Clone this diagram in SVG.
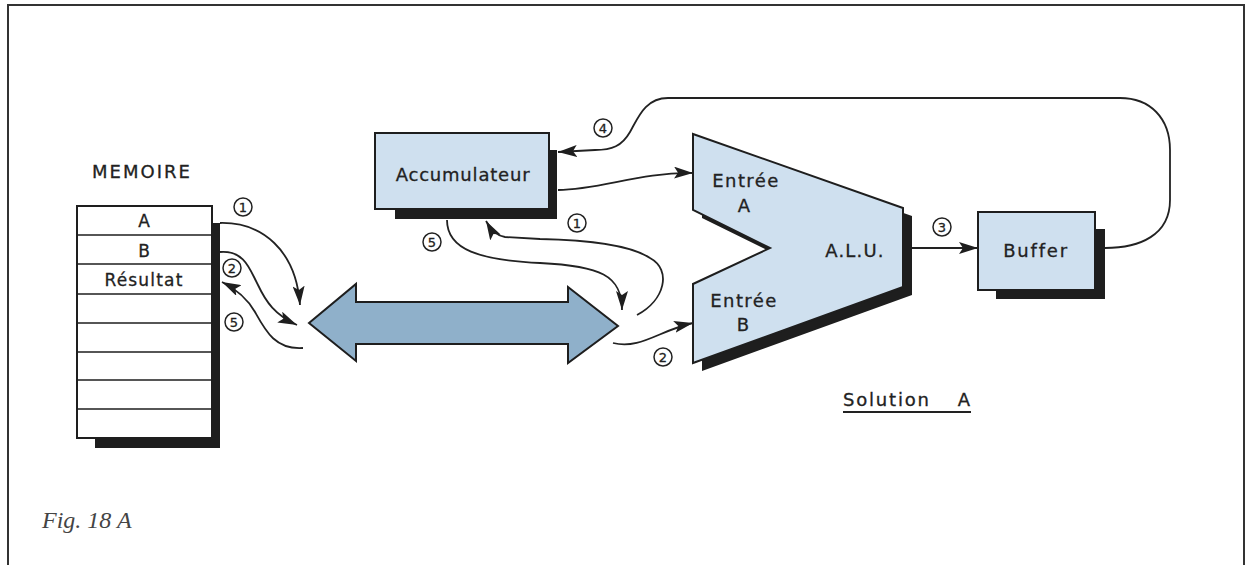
<svg xmlns="http://www.w3.org/2000/svg" width="1249" height="565" viewBox="0 0 1249 565">
<style>
.box{fill:#cfe0ef;stroke:#1e1e1e;stroke-width:2}
.shd{fill:#1e1e1e}
.lbl{font-family:"DejaVu Sans",sans-serif;font-size:18px;fill:#222;stroke:#222;stroke-width:0.3;text-anchor:middle}
.num{font-family:"DejaVu Sans",sans-serif;font-size:13px;fill:#222;stroke:#222;stroke-width:0.3;text-anchor:middle}
.circ{fill:none;stroke:#222;stroke-width:1.5}
.con{fill:none;stroke:#222;stroke-width:1.8}
.row{stroke:#1e1e1e;stroke-width:1.7}
</style>
<defs>
<marker id="ah" markerUnits="userSpaceOnUse" markerWidth="20" markerHeight="12" refX="19" refY="6" orient="auto">
<path d="M0,0 L19,6 L0,12 L4,6 z" fill="#1e1e1e"/>
</marker>
</defs>
<rect width="1249" height="565" fill="#fff"/>
<path d="M8,565 L8,5 L1244,5 L1244,565" fill="none" stroke="#333" stroke-width="2"/>

<g id="memoire">
<text x="142" y="178" class="lbl" style="letter-spacing:2px">MEMOIRE</text>
<rect x="95" y="223" width="125" height="225" class="shd"/>
<rect x="77" y="206" width="135" height="232" fill="#fff" stroke="#1e1e1e" stroke-width="2"/>
<line x1="77" y1="235" x2="212" y2="235" class="row"/>
<line x1="77" y1="264" x2="212" y2="264" class="row"/>
<line x1="77" y1="294" x2="212" y2="294" class="row"/>
<line x1="77" y1="323" x2="212" y2="323" class="row"/>
<line x1="77" y1="352" x2="212" y2="352" class="row"/>
<line x1="77" y1="380" x2="212" y2="380" class="row"/>
<line x1="77" y1="409" x2="212" y2="409" class="row"/>
<text x="144" y="227" class="lbl" style="font-size:17px">A</text>
<text x="144" y="257" class="lbl" style="font-size:17px">B</text>
<text x="144" y="286" class="lbl" style="font-size:17px;letter-spacing:1.2px">Résultat</text>
</g>

<g id="accumulateur">
<rect x="395" y="150" width="162" height="69" class="shd"/>
<rect x="375" y="133" width="174" height="76" class="box"/>
<text x="463" y="181" class="lbl" style="letter-spacing:0.8px">Accumulateur</text>
</g>

<g id="alu">
<polygon points="693,134 903,208 903,287 693,363 693,284 770,248 693,210" class="shd" transform="translate(9,8)"/>
<polygon points="693,134 903,208 903,287 693,363 693,284 770,248 693,210" class="box"/>
<text x="746" y="187" class="lbl" style="letter-spacing:1.4px">Entrée</text>
<text x="744" y="212" class="lbl">A</text>
<text x="744" y="307" class="lbl" style="letter-spacing:1.4px">Entrée</text>
<text x="743" y="331" class="lbl">B</text>
<text x="855" y="257" class="lbl" style="letter-spacing:1.2px">A.L.U.</text>
</g>

<g id="buffer">
<rect x="996" y="229" width="109" height="70" class="shd"/>
<rect x="978" y="212" width="117" height="78" class="box"/>
<text x="1036" y="257" class="lbl" style="letter-spacing:1.8px">Buffer</text>
</g>

<g id="bus">
<polygon points="309,323 356,284 356,302 568,302 568,287 618,326 568,363 568,344 356,344 356,361" fill="#8fb0ca" stroke="#1e1e1e" stroke-width="2" stroke-linejoin="miter"/>
</g>

<g id="connectors">
<path d="M220,223 C262,222 296,250 300,305" class="con" marker-end="url(#ah)"/>
<path d="M220,252 C245,250 250,270 258,285 C266,302 275,315 297,325" class="con" marker-end="url(#ah)"/>
<path d="M303,348 C275,350 265,330 255,312 C247,298 234,288 222,282" class="con" marker-end="url(#ah)"/>
<path d="M558,190 C600,190 640,172 693,173" class="con" marker-end="url(#ah)"/>
<path d="M447,220 C447,250 480,260 540,263 C600,266 622,275 622,310" class="con" marker-end="url(#ah)"/>
<path d="M637,315 C665,300 672,270 650,258 C630,245 590,240 540,239 L505,237 C497,236 490,228 486,221" class="con" marker-end="url(#ah)"/>
<path d="M613,343 C640,350 660,330 693,323" class="con" marker-end="url(#ah)"/>
<path d="M912,248 L978,248" class="con" marker-end="url(#ah)"/>
<path d="M1105,248 C1140,248 1170,235 1170,200 L1170,150 C1170,118 1150,98 1120,98 L668,98 C645,98 638,118 630,132 C622,146 612,150 595,150 L558,152" class="con" marker-end="url(#ah)"/>
</g>

<g id="labels">
<circle cx="243" cy="207" r="9" class="circ"/><text x="243" y="211.5" class="num">1</text>
<circle cx="232" cy="268" r="9" class="circ"/><text x="232" y="272.5" class="num">2</text>
<circle cx="234" cy="322" r="9" class="circ"/><text x="234" y="326.5" class="num">5</text>
<circle cx="603" cy="128" r="9" class="circ"/><text x="603" y="132.5" class="num">4</text>
<circle cx="577" cy="223" r="9" class="circ"/><text x="577" y="227.5" class="num">1</text>
<circle cx="432" cy="242" r="9" class="circ"/><text x="432" y="246.5" class="num">5</text>
<circle cx="663" cy="357" r="9" class="circ"/><text x="663" y="361.5" class="num">2</text>
<circle cx="942" cy="227" r="9" class="circ"/><text x="942" y="231.5" class="num">3</text>
<text x="843" y="406" style="font-family:'DejaVu Sans',sans-serif;font-size:18px;fill:#222;stroke:#222;stroke-width:0.3;letter-spacing:1.8px">Solution</text>
<text x="970" y="406" style="font-family:'DejaVu Sans',sans-serif;font-size:18px;fill:#222;stroke:#222;stroke-width:0.3;text-anchor:end">A</text>
<line x1="843" y1="412" x2="971" y2="412" stroke="#222" stroke-width="2"/>
<text x="42" y="528" style="font-family:'Liberation Serif',serif;font-style:italic;font-size:24px;fill:#444">Fig. 18 A</text>
</g>
</svg>
